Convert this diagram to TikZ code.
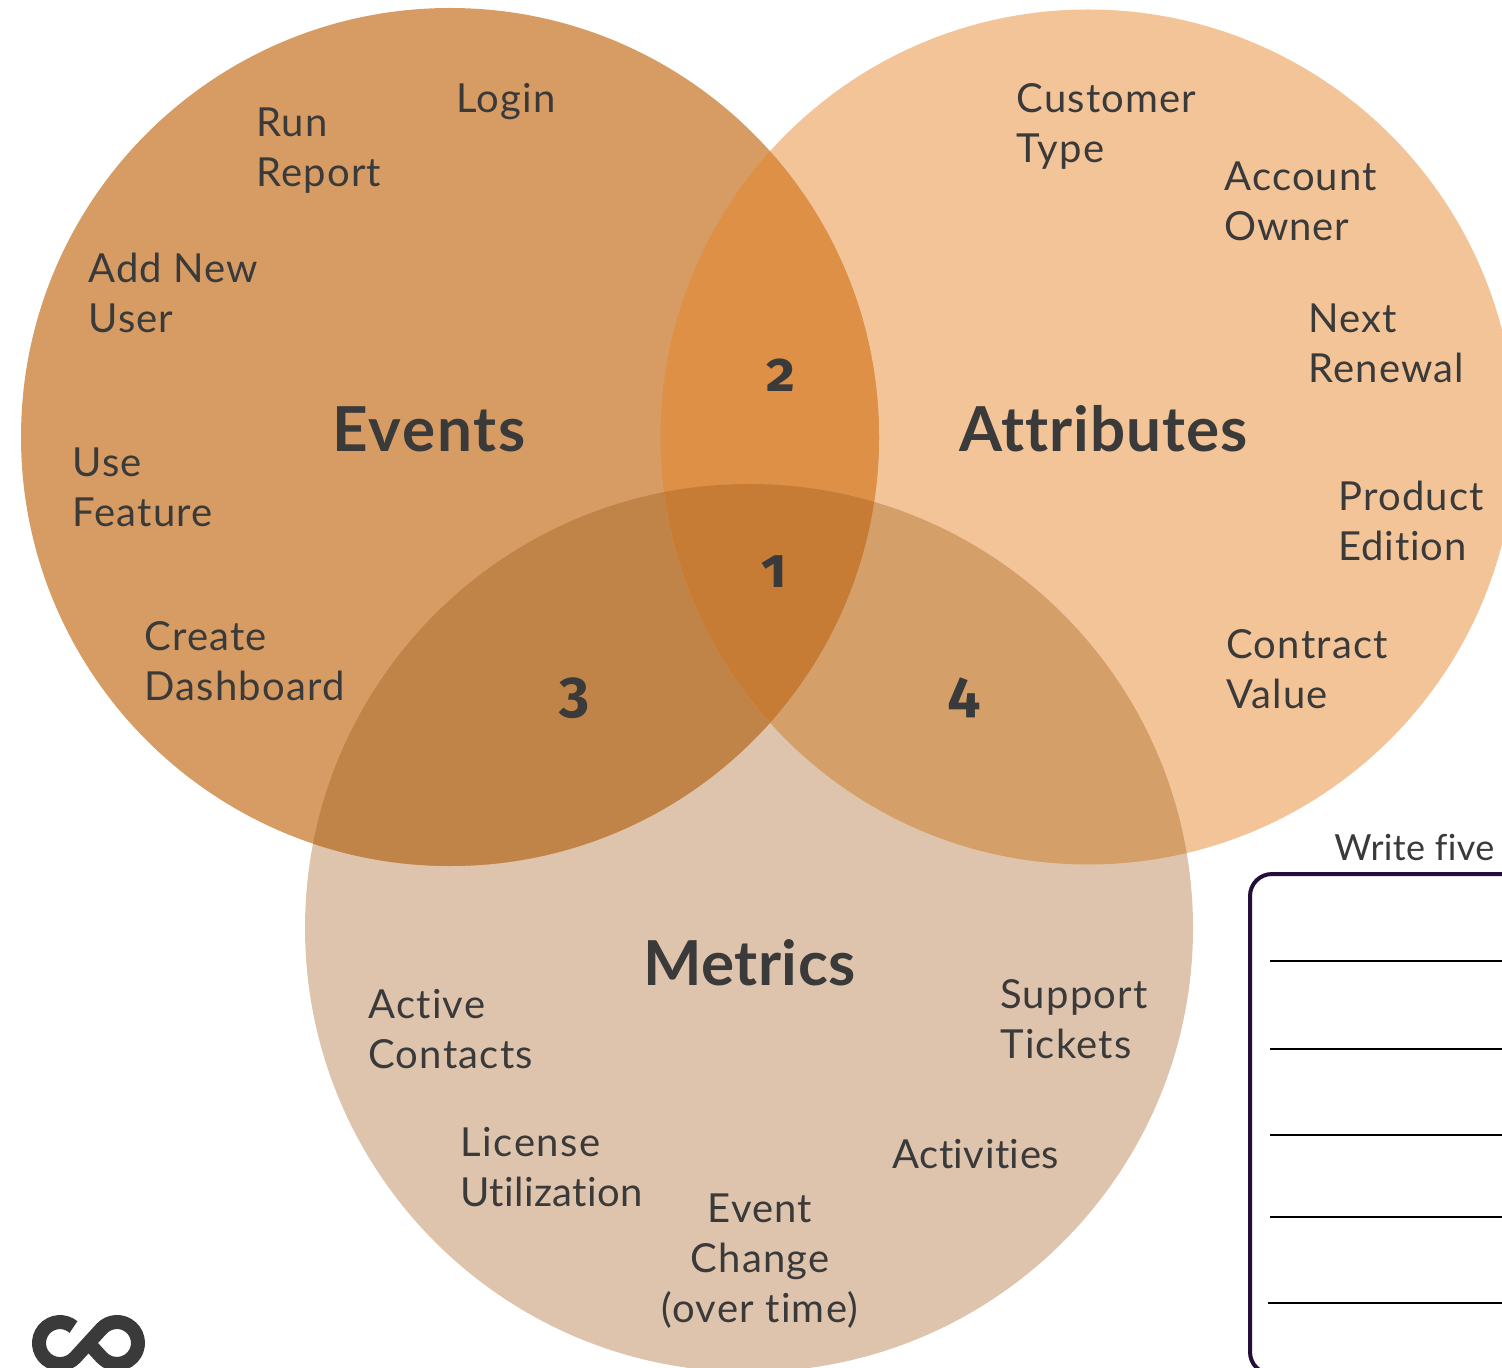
\documentclass[tikz,border=0pt]{standalone}
\usepackage{fontspec}
\setmainfont{Lato}[Ligatures=NoCommon]
\newfontfamily\numfont[Numbers=OldStyle]{Fira Sans}
\newcommand{\lsp}[1]{\addfontfeatures{LetterSpace=#1}}
\definecolor{ink}{HTML}{3A3A3A}
\definecolor{cE}{HTML}{D69C63}
\definecolor{cA}{HTML}{F3C498}
\definecolor{cM}{HTML}{DFC4AD}
\definecolor{cEA}{HTML}{DE9047}
\definecolor{cEM}{HTML}{C18448}
\definecolor{cAM}{HTML}{D59F69}
\definecolor{cEAM}{HTML}{C67C34}
\definecolor{boxline}{HTML}{22103A}
\tikzset{
  item/.style={anchor=base west,inner sep=0pt,align=left,text=ink,font=\fontsize{20}{25}\selectfont\lsp{3}},
  itemc/.style={anchor=base,inner sep=0pt,align=center,text=ink,font=\fontsize{20}{25}\selectfont\lsp{3}},
  head/.style={anchor=base west,inner sep=0pt,text=ink,font=\fontsize{31}{36}\selectfont\bfseries\lsp{1.5}},
  num/.style={anchor=base west,inner sep=0pt,text=ink,font=\numfont\fontsize{28}{32}\selectfont\bfseries},
  numbig/.style={num,font=\numfont\fontsize{29}{32}\selectfont\bfseries},
  rule/.style={draw=black,line width=1pt}
}
\begin{document}
\begin{tikzpicture}[x=0.5pt,y=-0.5pt]
\useasboundingbox (0,0) rectangle (1502,1368);
\clip (0,0) rectangle (1502,1368);
\def\cE{(450,437) circle[radius=214.5pt]}
\def\cA{(1088,437) circle[radius=213.75pt]}
\def\cM{(749,928) circle[radius=222pt]}
\fill[cM] \cM;
\fill[cA] \cA;
\fill[cE] \cE;
\begin{scope}\clip \cE; \fill[cEA] \cA; \end{scope}
\begin{scope}\clip \cE; \fill[cEM] \cM; \end{scope}
\begin{scope}\clip \cA; \fill[cAM] \cM; \end{scope}
\begin{scope}\clip \cE; \clip \cA; \fill[cEAM] \cM; \end{scope}
% headings
\node[head,font=\fontsize{31}{36}\selectfont\bfseries\lsp{3}] (events) at (332,452) {Events};
\node[head] (attributes) at (959,452) {Attributes};
\node[head,font=\fontsize{31}{36}\selectfont\bfseries\lsp{0.8}] (metrics) at (643,985) {Metrics};
% numbers
\node[num] (n2) at (766,392) {2};
\node[num] (n1) at (761,587) {1};
\node[numbig] (n3) at (559,711) {3};
\node[numbig] (n4) at (948,711) {4};
% events
\node[item] (login) at (456,113) {Login};
\node[item] (run) at (256,187) {Run\\Report};
\node[item] (add) at (88,333) {Add New\\User};
\node[item] (use) at (72,527) {Use\\Feature};
\node[item] (create) at (144,700) {Create\\Dashboard};
% attributes
\node[item] (cust) at (1016,163) {Customer\\Type};
\node[item] (acct) at (1224,241) {Account\\{\lsp{2}Owner}};
\node[item] (next) at (1308,383) {Next\\Renewal};
\node[item] (prod) at (1338,560) {Product\\{\lsp{2}Edition}};
\node[item] (cont) at (1226,708) {Contract\\Value};
% metrics
\node[item] (active) at (368,1068) {Active\\Contacts};
\node[item] (lic) at (460,1206) {{\lsp{4}License}\\{\lsp{1}Utilization}};
\node[item] (supp) at (1000,1058) {Support\\Tickets};
\node[item,font=\fontsize{20}{25}\selectfont\lsp{1.2}] (activ) at (892,1168) {Activities};
\node[itemc] (ev) at (760,1322) {Event\\Change\\(over time)};
% box
\node[item,font=\fontsize{18}{22}\selectfont\lsp{1}] (write) at (1334,860) {Write five};
\draw[boxline,line width=2pt,rounded corners=11pt] (1250,874) rectangle (1650,1374);
\draw[rule] (1270,961) -- (1510,961);
\draw[rule] (1270,1049) -- (1510,1049);
\draw[rule] (1270,1135) -- (1510,1135);
\draw[rule] (1270,1217) -- (1510,1217);
\draw[rule] (1268,1303) -- (1510,1303);
% logo
\draw[ink,line width=7pt] (73.5,1327) arc[start angle=50,end angle=317.5,radius=10.5pt]
  -- (101.5,1328.8) arc[start angle=137.5,end angle=-137.5,radius=10.5pt] -- (88.5,1343);
\end{tikzpicture}
\end{document}
